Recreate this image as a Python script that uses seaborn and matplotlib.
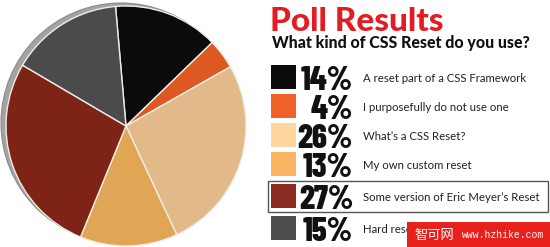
import matplotlib
matplotlib.use("Agg")
import matplotlib.pyplot as plt
import seaborn as sns
from matplotlib.patches import Rectangle, Circle
from matplotlib import font_manager as fm

sns.set_theme(style="white")
plt.rcParams['font.family'] = ['Lato', 'DejaVu Sans']

# ---- data ----
title = "Poll Results"
subtitle = "What kind of CSS Reset do you use?"
categories = ["A reset part of a CSS Framework",
              "I purposefully do not use one",
              "What\u2019s a CSS Reset?",
              "My own custom reset",
              "Some version of Eric Meyer\u2019s Reset",
              "Hard reset"]
values = [14, 4, 26, 13, 27, 15]
pct_labels = ["14%", "4%", "26%", "13%", "27%", "15%"]
highlight_index = 4
pie_colors = ["#0b0b0b", "#dc5a22", "#e2b988", "#e0a655", "#7d2417", "#4b4b4d"]
key_colors = ["#0b0b0b", "#f0622a", "#fdd6a0", "#fbb562", "#8b2b20", "#4d4d4f"]


def pick_pct_font():
    cands = [("Barlow Condensed", "heavy", "normal"),
             ("Barlow Condensed", "bold", "normal"),
             ("Archivo Narrow", "bold", "normal"),
             ("Roboto Condensed", "bold", "normal"),
             ("DejaVu Sans", "bold", "condensed")]
    for fam, w, st in cands:
        try:
            f = fm.findfont(fm.FontProperties(family=fam, weight=w, stretch=st),
                            fallback_to_default=False)
        except Exception:
            continue
        key = fam.replace(" ", "").lower()
        if key in f.replace(" ", "").replace("_", "").replace("-", "").lower() or \
                (st == "condensed" and "condensed" in f.lower()):
            return fm.FontProperties(fname=f)
    return fm.FontProperties(family="Lato", weight="bold")


pct_font = pick_pct_font()

W, H = 550, 247
fig = plt.figure(figsize=(W / 100, H / 100), dpi=100)
ax = fig.add_axes([0, 0, 1, 1])
Y = lambda y: H - y

# shadow behind the pie
ax.add_patch(Circle((121, Y(123)), 120, facecolor="#a3a3a3", edgecolor="#8a8a8a", lw=0.8, zorder=0))

ax.pie(values, colors=pie_colors, startangle=95, counterclock=False,
       center=(126, Y(126)), radius=120,
       wedgeprops=dict(edgecolor="#f2ece4", linewidth=1.0), frame=True)

# title + subtitle
ax.text(270, Y(31), title, color="#e31b23", fontsize=24, fontweight="black",
        ha="left", va="baseline")
ax.text(272, Y(48), subtitle, color="#111111", fontsize=11.4, fontweight="black",
        ha="left", va="baseline")

row_tops = [65, 94, 123, 152, 184, 216]
for i, (lab, pct, col) in enumerate(zip(categories, pct_labels, key_colors)):
    top = row_tops[i]
    ax.add_patch(Rectangle((271, Y(top + 24)), 25, 24, facecolor=col, edgecolor="none"))
    fp = pct_font.copy()
    fp.set_size(24)
    ax.text(353, Y(top + 25), pct, fontproperties=fp, color="#111111",
            ha="right", va="baseline")
    ax.text(363, Y(top + 17), lab, fontsize=8.2, color="#222222",
            ha="left", va="baseline")
    if i == highlight_index:
        ax.add_patch(Rectangle((268, Y(212)), 280, 31, facecolor="none",
                               edgecolor="#555555", lw=1.0))

# watermark
ax.add_patch(Rectangle((407, Y(247)), 143, 25, facecolor="#e8201c", edgecolor="none", zorder=5))
ax.text(414, Y(235), "智可网", fontsize=9.5, color="white",
        family=["Noto Sans CJK SC", "DejaVu Sans"], ha="left", va="center", zorder=6)
ax.text(462, Y(235), "www.hzhike.com", fontsize=7, color="white",
        family=["Liberation Mono", "DejaVu Sans Mono"], ha="left", va="center", zorder=6)

ax.set_xlim(0, W)
ax.set_ylim(0, H)
ax.set_aspect("equal")
ax.axis("off")
fig.savefig("out.png", dpi=100, facecolor="white")
